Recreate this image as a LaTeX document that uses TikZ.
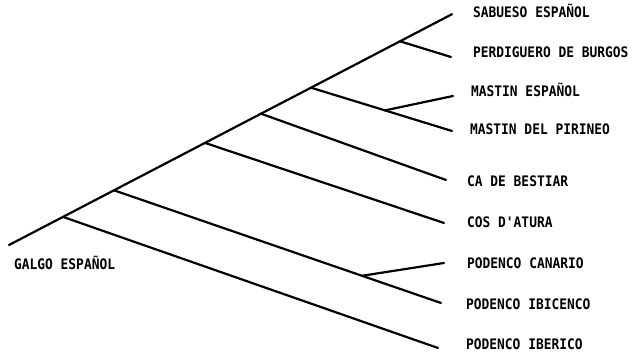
\documentclass[tikz,border=0pt]{standalone}
\usepackage{fontspec}
\usepackage{tikz-feynman}
\usetikzlibrary{positioning}
\newfontfamily\tipfont[FakeStretch=0.89]{DejaVu Sans Mono}

\begin{document}
\begin{tikzpicture}[x=1pt, y=1pt, line width=2.2pt, line cap=round,
  breed/.style={font=\tipfont\bfseries\fontsize{14.5}{16}\selectfont, inner sep=0pt, text height=10.6pt, text depth=0pt}]
 \useasboundingbox (0,0) rectangle (633,353);
 \begin{feynman}
  \vertex (root) at (9,108);
  \vertex [above right=28.1pt and 54pt of root] (n1);
  \vertex [above right=26.6pt and 51pt of n1] (n2);
  \vertex [above right=47.4pt and 91pt of n2] (n3);
  \vertex [above right=29.2pt and 56pt of n3] (n4);
  \vertex [above right=26pt and 50pt of n4] (n5);
  \vertex [above right=46.4pt and 89pt of n5] (n6);
  \vertex [above right=27.1pt and 52pt of n6] (tsab);
  \vertex [below right=15.7pt and 51pt of n6] (tper);
  \vertex [below right=22.7pt and 74pt of n5] (m);
  \vertex [above right=14.4pt and 68pt of m] (tmes);
  \vertex [below right=20.6pt and 67pt of m] (tpir);
  \vertex [below right=66.3pt and 185pt of n4] (tca);
  \vertex [below right=80.1pt and 239pt of n3] (tcos);
  \vertex [below right=85.5pt and 248pt of n2] (c);
  \vertex [above right=12.8pt and 82pt of c] (tcan);
  \vertex [below right=27.2pt and 79pt of c] (tibi);
  \vertex [below right=131.1pt and 375pt of n1] (tibe);
  % breed names
  \vertex [breed, right=20pt of tsab, yshift=2pt] (lsab) {SABUESO ESPAÑOL};
  \vertex [breed, right=21pt of tper, yshift=5pt] (lper) {PERDIGUERO DE BURGOS};
  \vertex [breed, right=17pt of tmes, yshift=5pt] (lmes) {MASTIN ESPAÑOL};
  \vertex [breed, right=17pt of tpir, yshift=2pt] (lpir) {MASTIN DEL PIRINEO};
  \vertex [breed, right=20pt of tca, yshift=-1pt] (lca) {CA DE BESTIAR};
  \vertex [breed, right=22pt of tcos, yshift=1pt] (lcos) {COS D'ATURA};
  \vertex [breed, right=22pt of tcan] (lcan) {PODENCO CANARIO};
  \vertex [breed, right=24pt of tibi, yshift=-1pt] (libi) {PODENCO IBICENCO};
  \vertex [breed, right=27pt of tibe, yshift=4pt] (libe) {PODENCO IBERICO};
  \vertex [breed, right=4pt of root, yshift=-19pt] (lgal) {GALGO ESPAÑOL};
  \diagram* {
  (root) -- (n1) -- (n2) -- (n3) -- (n4) -- (n5) -- (n6) -- (tsab),
  (n6) -- (tper),
  (n5) -- (m) -- (tpir),
  (m) -- (tmes),
  (n4) -- (tca),
  (n3) -- (tcos),
  (n2) -- (c) -- (tibi),
  (c) -- (tcan),
  (n1) -- (tibe),
  };
 \end{feynman}
\end{tikzpicture}
\end{document}
